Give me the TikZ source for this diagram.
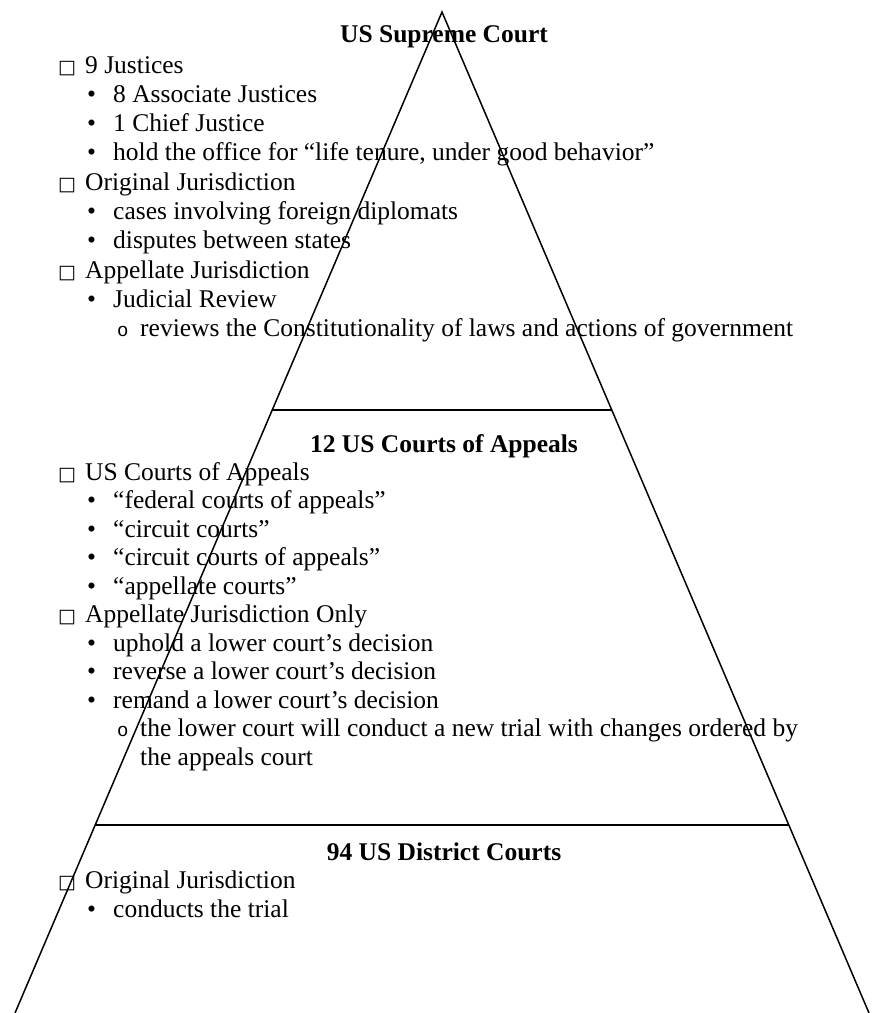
\documentclass[tikz,border=0pt]{standalone}
\usepackage{fontspec}
\setmainfont{Liberation Serif}
\newfontfamily\boxfont{DejaVu Sans}
\newfontfamily\circfont{Liberation Mono}
\usetikzlibrary{calc}
\tikzset{
  txt/.style={anchor=base west, inner sep=0pt, font=\fontsize{25.5}{29}\selectfont},
  ttl/.style={anchor=base, inner sep=0pt, font=\fontsize{25.5}{29}\selectfont\bfseries},
  sqmark/.style={anchor=base west, inner sep=0pt, font=\boxfont\fontsize{19}{20}\selectfont},
  dotmark/.style={anchor=base west, inner sep=0pt, font=\fontsize{25.5}{29}\selectfont},
  circmark/.style={anchor=base west, inner sep=0pt, font=\circfont\fontsize{19}{22}\selectfont},
  side/.style={line width=1.5pt, line cap=round},
  divider/.style={line width=2pt},
}
\begin{document}
\begin{tikzpicture}[x=1pt,y=1pt]
\useasboundingbox (0,0) rectangle (879,-1013);
% pyramid
\coordinate (apex) at (442,-12);
\coordinate (bl) at (15,-1013);
\coordinate (br) at (869,-1013);
\coordinate (d1l) at ($(apex)!0.3976!(bl)$);
\coordinate (d1r) at ($(apex)!0.3976!(br)$);
\coordinate (d2l) at ($(apex)!0.8122!(bl)$);
\coordinate (d2r) at ($(apex)!0.8122!(br)$);
\draw[side] (bl) -- (apex) -- (br);
\draw[divider] (d1l) -- (d1r);
\draw[divider] (d2l) -- (d2r);

% ---- Supreme Court ----
\node[ttl] (t1) at (444,-42) {US Supreme Court};
\node[sqmark] (s1a) at (58,-73) {□};
\node[txt] (a1) at (85,-73) {9 Justices};
\node[dotmark] (b1a) at (87,-102.3) {•};
\node[txt] (a2) at (113,-102.3) {8 Associate Justices};
\node[dotmark] (b1b) at (87,-131.6) {•};
\node[txt] (a3) at (113,-131.6) {1 Chief Justice};
\node[dotmark] (b1c) at (87,-160.9) {•};
\node[txt] (a4) at (113,-160.9) {hold the office for “life tenure, under good behavior”};
\node[sqmark] (s1b) at (58,-190.2) {□};
\node[txt] (a5) at (85,-190.2) {Original Jurisdiction};
\node[dotmark] (b1d) at (87,-219.5) {•};
\node[txt] (a6) at (113,-219.5) {cases involving foreign diplomats};
\node[dotmark] (b1e) at (87,-248.8) {•};
\node[txt] (a7) at (113,-248.8) {disputes between states};
\node[sqmark] (s1c) at (58,-278.1) {□};
\node[txt] (a8) at (85,-278.1) {Appellate Jurisdiction};
\node[dotmark] (b1f) at (87,-307.4) {•};
\node[txt] (a9) at (113,-307.4) {Judicial Review};
\node[circmark] (c1a) at (117,-336.7) {o};
\node[txt] (a10) at (140,-336.7) {reviews the Constitutionality of laws and actions of government};

% ---- Courts of Appeals ----
\node[ttl] (t2) at (444,-452) {12 US Courts of Appeals};
\node[sqmark] (s2a) at (58,-480) {□};
\node[txt] (e1) at (85,-480) {US Courts of Appeals};
\node[dotmark] (b2a) at (87,-508.5) {•};
\node[txt] (e2) at (113,-508.5) {“federal courts of appeals”};
\node[dotmark] (b2b) at (87,-537) {•};
\node[txt] (e3) at (113,-537) {“circuit courts”};
\node[dotmark] (b2c) at (87,-565.5) {•};
\node[txt] (e4) at (113,-565.5) {“circuit courts of appeals”};
\node[dotmark] (b2d) at (87,-594) {•};
\node[txt] (e5) at (113,-594) {“appellate courts”};
\node[sqmark] (s2b) at (58,-622.5) {□};
\node[txt] (e6) at (85,-622.5) {Appellate Jurisdiction Only};
\node[dotmark] (b2e) at (87,-651) {•};
\node[txt] (e7) at (113,-651) {uphold a lower court’s decision};
\node[dotmark] (b2f) at (87,-679.5) {•};
\node[txt] (e8) at (113,-679.5) {reverse a lower court’s decision};
\node[dotmark] (b2g) at (87,-708) {•};
\node[txt] (e9) at (113,-708) {remand a lower court’s decision};
\node[circmark] (c2a) at (117,-736.5) {o};
\node[txt] (e10) at (140,-736.5) {the lower court will conduct a new trial with changes ordered by};
\node[txt] (e11) at (140,-765) {the appeals court};

% ---- District Courts ----
\node[ttl] (t3) at (444,-860) {94 US District Courts};
\node[sqmark] (s3a) at (58,-888) {□};
\node[txt] (f1) at (85,-888) {Original Jurisdiction};
\node[dotmark] (b3a) at (87,-917) {•};
\node[txt] (f2) at (113,-917) {conducts the trial};
\end{tikzpicture}
\end{document}
